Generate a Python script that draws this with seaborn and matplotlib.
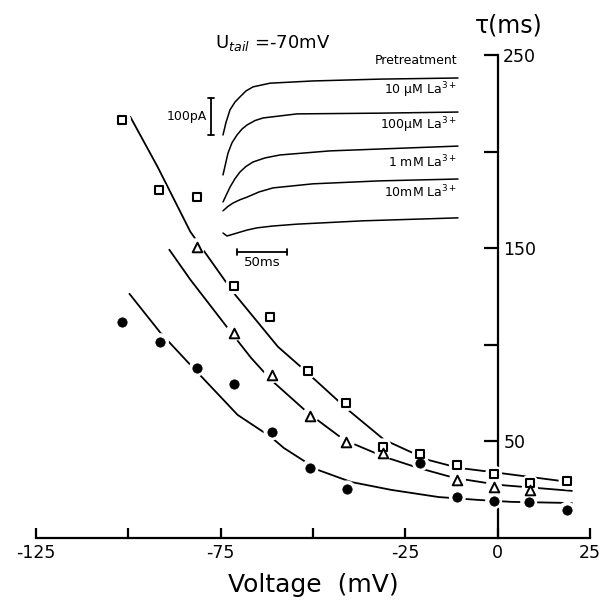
import numpy as np
import pandas as pd
import matplotlib
matplotlib.use("Agg")
import matplotlib.pyplot as plt
import seaborn as sns

# ---------------- data ----------------
# measured time constants (ms) vs voltage (mV)
sq_v = [-101.6, -91.8, -81.5, -71.5, -61.7, -51.4, -41.0, -31.0, -20.9, -10.9, -1.1, 8.7, 18.8]
sq_tau = [216.6, 180.3, 176.7, 130.6, 114.5, 86.5, 69.9, 47.2, 43.5, 37.8, 33.2, 28.5, 29.5]
tri_v = [-81.5, -71.5, -61.1, -50.8, -41.0, -31.0, -10.9, -1.1, 8.7]
tri_tau = [150.8, 106.2, 84.5, 63.2, 49.7, 44.0, 30.1, 26.4, 24.9]
dot_v = [-101.6, -91.3, -81.3, -71.5, -61.1, -50.8, -40.8, -20.9, -10.9, -1.1, 8.4, 18.8]
dot_tau = [111.9, 101.6, 88.1, 79.8, 54.9, 36.3, 25.4, 38.9, 21.2, 19.2, 18.7, 14.5]

# fitted curves
sqfit_v = [-99.5, -92.1, -83.2, -71.5, -59.5, -53.3, -40.5, -30.7, -18.8, -10.6, 0.3, 19.3]
sqfit_tau = [218.1, 192.2, 158.5, 126.9, 99.0, 88.6, 66.3, 50.8, 40.4, 36.3, 33.7, 29.0]
trifit_v = [-88.9, -83.2, -72.3, -66.8, -61.4, -51.4, -41.6, -30.7, -21.5, -11.7, 0.3, 20.1]
trifit_tau = [149.2, 133.7, 106.7, 93.3, 81.9, 64.8, 50.8, 42.0, 36.3, 31.1, 27.5, 24.4]
dotfit_v = [-99.7, -91.3, -83.2, -70.4, -61.4, -57.9, -48.6, -39.7, -28.8, -16.0, -5.2, 3.8, 20.1]
dotfit_tau = [126.4, 106.2, 89.6, 63.7, 52.3, 46.6, 35.2, 29.0, 24.9, 21.2, 19.7, 18.7, 18.1]

x_ticks = [-125, -100, -75, -50, -25, 0, 25]
x_ticklabels = ["-125", "", "-75", "", "-25", "0", "25"]
y_ticks = [50, 100, 150, 200, 250]
y_ticklabels = ["50", "", "150", "", "250"]

# inset current traces (time in ms, current in pA, vertically offset as drawn)
trace_names = ["Pretreatment", "10 \u03bcM La$^{3+}$", "100\u03bcM La$^{3+}$", "1 mM La$^{3+}$", "10mM La$^{3+}$"]
tr1_t = [0, 3, 7, 12, 17, 23, 30, 47, 90, 157, 235]
tr1_i = [446, 480, 514, 535, 549, 565, 576, 586, 592, 597, 600]
tr2_t = [0, 5, 9, 14, 19, 24, 32, 40, 74, 157, 235]
tr2_i = [338, 397, 425, 446, 462, 473, 485, 492, 503, 505, 508]
tr3_t = [0, 7, 12, 17, 23, 30, 42, 57, 107, 235]
tr3_i = [265, 305, 328, 346, 361, 373, 384, 392, 403, 416]
tr4_t = [0, 5, 10, 17, 24, 36, 50, 90, 157, 235]
tr4_i = [241, 253, 262, 271, 278, 292, 303, 314, 322, 327]
tr5_t = [0, 4, 9, 14, 24, 34, 50, 74, 140, 235]
tr5_i = [181, 173, 177, 181, 189, 195, 200, 205, 214, 222]
label_i = [630, 540, 446, 351, 270]

# ---------------- figure ----------------
sns.set_style("white")
plt.rcParams["font.family"] = ["DejaVu Sans"]
plt.rcParams["mathtext.fontset"] = "dejavusans"
for k in ["text.color", "axes.labelcolor", "xtick.color", "ytick.color"]:
    plt.rcParams[k] = "black"

W, H = 610, 602
fig = plt.figure(figsize=(W / 100, H / 100), dpi=100)

def fx(px):
    return px / W

def fy(py):
    return 1 - py / H

ax = fig.add_axes([fx(36), fy(538), (590 - 36) / W, (538 - 55) / H])
ax.set_xlim(-125, 25)
ax.set_ylim(0, 250)

lw_ax = 1.6
for s in ["top", "left"]:
    ax.spines[s].set_visible(False)
ax.spines["bottom"].set_linewidth(lw_ax)
ax.spines["right"].set_linewidth(lw_ax)
ax.spines["right"].set_position(("data", 0))
ax.spines["bottom"].set_color("black")
ax.spines["right"].set_color("black")

ax.set_xticks(x_ticks)
ax.set_xticklabels(x_ticklabels)
ax.set_yticks(y_ticks)
ax.set_yticklabels(y_ticklabels)
ax.xaxis.set_ticks_position("bottom")
ax.yaxis.set_ticks_position("right")
ax.tick_params(axis="x", direction="in", length=7.5, width=lw_ax, labelsize=12.5, pad=4,
               colors="black", labelcolor="black")
ax.tick_params(axis="y", direction="in", length=10, width=lw_ax, labelsize=12.5, pad=4,
               colors="black", labelcolor="black")

# fitted curves
curve_df = pd.concat([
    pd.DataFrame({"V": sqfit_v, "tau": sqfit_tau, "c": "sq"}),
    pd.DataFrame({"V": trifit_v, "tau": trifit_tau, "c": "tri"}),
    pd.DataFrame({"V": dotfit_v, "tau": dotfit_tau, "c": "dot"}),
])
sns.lineplot(data=curve_df, x="V", y="tau", units="c", estimator=None, sort=False,
             color="black", lw=1.3, ax=ax, legend=False)

# white halos to break the curves around markers
pts = pd.concat([
    pd.DataFrame({"V": sq_v, "tau": sq_tau, "m": "sq"}),
    pd.DataFrame({"V": tri_v, "tau": tri_tau, "m": "tri"}),
    pd.DataFrame({"V": dot_v, "tau": dot_tau, "m": "dot"}),
])
sns.scatterplot(data=pts, x="V", y="tau", marker="o", s=150, color="white",
                edgecolor="none", ax=ax, legend=False, zorder=3)

sns.scatterplot(x=sq_v, y=sq_tau, marker="s", s=34, facecolor="white",
                edgecolor="black", linewidth=1.5, ax=ax, legend=False, zorder=4)
sns.scatterplot(x=tri_v, y=tri_tau, marker="^", s=48, facecolor="white",
                edgecolor="black", linewidth=1.4, ax=ax, legend=False, zorder=4)
sns.scatterplot(x=dot_v, y=dot_tau, marker="o", s=45, color="black",
                edgecolor="black", ax=ax, legend=False, zorder=4)

ax.set_xlabel("Voltage  (mV)", fontsize=18, labelpad=8, color="black")
ax.set_ylabel("")

fig.text(fx(509), fy(25), "\u03c4(ms)", fontsize=17, ha="center", va="center")
fig.text(fx(273), fy(43), "U$_{tail}$ =-70mV", fontsize=13, ha="center", va="center")

# ---------------- inset traces ----------------
ins = fig.add_axes([fx(183), fy(290), 290 / W, 230 / H])
ins.set_xlim(-40, 250)
ins.set_ylim((300 - 290) / 0.37, (300 - 60) / 0.37)
ins.axis("off")
ins.patch.set_alpha(0)

traces = [(tr1_t, tr1_i), (tr2_t, tr2_i), (tr3_t, tr3_i), (tr4_t, tr4_i), (tr5_t, tr5_i)]
for (tt, ii) in traces:
    sns.lineplot(x=tt, y=ii, color="black", lw=1.1, ax=ins, estimator=None, sort=False, legend=False)
for name, li in zip(trace_names, label_i):
    ins.text(234, li, name, ha="right", va="bottom", fontsize=9)

# scale bars
ins.plot([-12, -12], [446, 546], color="black", lw=1.3)
ins.plot([-15, -9], [446, 446], color="black", lw=1.3)
ins.plot([-15, -9], [546, 546], color="black", lw=1.3)
ins.text(-16, 496, "100pA", ha="right", va="center", fontsize=9)
ins.plot([14, 64], [130, 130], color="black", lw=1.3)
ins.plot([14, 14], [122, 138], color="black", lw=1.3)
ins.plot([64, 64], [122, 138], color="black", lw=1.3)
ins.text(39, 118, "50ms", ha="center", va="top", fontsize=9.5)

fig.savefig("out.png", dpi=100)
